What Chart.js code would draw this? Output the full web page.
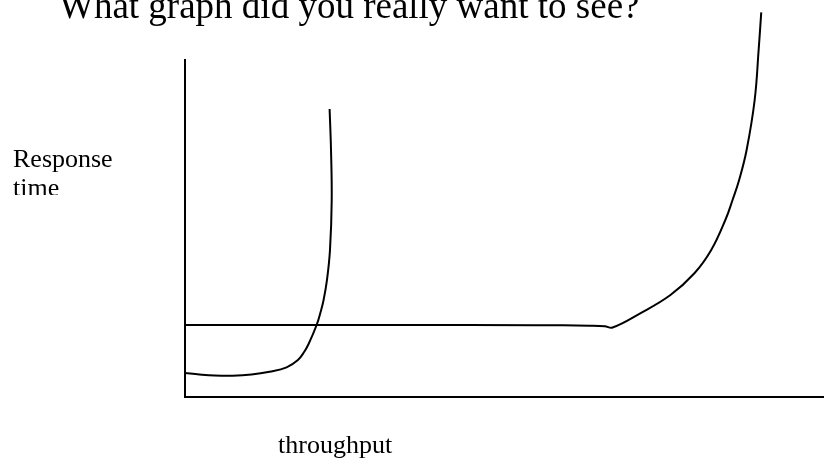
<!DOCTYPE html>
<html>
<head>
<meta charset="utf-8">
<script src="https://cdn.jsdelivr.net/npm/chart.js@4"></script>
<style>
  html, body { margin: 0; padding: 0; background: #fff; }
  #wrap { width: 824px; height: 466px; position: relative; }
</style>
</head>
<body>
<div id="wrap"><canvas id="sketch"></canvas></div>
<script>
// throughput (x) vs response time (y), arbitrary 0-100 units
const sawX = [0, 2.27, 4.62, 7.44, 10.41, 13.23, 15.90, 17.67, 18.64, 19.34, 20.60, 21.22, 21.69, 22.22, 22.69, 22.96, 22.85, 22.63]
const sawY = [7.1, 6.68, 6.38, 6.32, 6.68, 7.51, 8.81, 10.98, 13.35, 15.73, 21.36, 25.22, 28.78, 34.72, 43.62, 58.46, 73.29, 85.46]

const wantX = [0, 33.6, 55.05, 63.35, 65.70, 66.91, 71.24, 75.97, 79.72, 82.35, 84.56, 85.69, 86.72, 87.89, 89.15, 89.77, 90.18]
const wantY = [21.36, 21.36, 21.31, 21.16, 21.01, 20.62, 24.84, 30.27, 36.71, 43.62, 52.52, 58.46, 64.39, 73.29, 88.13, 102.97, 114.15]

const titleText = 'What graph did you really want to see?'
const yLabel = ['Response', 'time']
const xLabel = 'throughput'

const toPoints = (xs, ys) => xs.map((x, i) => ({x: x, y: ys[i]}))

const textPlugin = {
    id: 'sketchText',
    afterDraw(chart) {
        const c = chart.ctx
        c.save()
        c.fillStyle = '#000'
        c.textBaseline = 'alphabetic'
        c.textAlign = 'left'
        c.font = '37px "Liberation Serif"'
        c.fillText(titleText, 59, 18)
        c.font = '26px "Liberation Serif"'
        c.fillText(yLabel[0], 13, 167)
        c.fillText(xLabel, 278, 453)
        // second line of the label is cut off in the original
        c.beginPath()
        c.rect(0, 0, 180, 195)
        c.clip()
        c.fillText(yLabel[1], 13, 196)
        c.restore()
    }
}

const lineStyle = {
    showLine: true,
    borderColor: '#000',
    borderWidth: 2,
    pointRadius: 0,
    fill: false,
    clip: false,
}

new Chart(
    document.getElementById('sketch'), {
        type: 'scatter',
        data: {
            datasets: [
                {label: 'saw', data: toPoints(sawX, sawY), tension: 0.4, ...lineStyle},
                {label: 'want', data: toPoints(wantX, wantY), tension: 0.4, ...lineStyle},
            ]
        },
        options: {
            responsive: true,
            maintainAspectRatio: false,
            animation: false,
            events: [],
            layout: {padding: {left: 185, top: 60, right: 0, bottom: 69}},
            plugins: {legend: {display: false}, tooltip: {enabled: false}},
            scales: {
                x: {
                    type: 'linear', min: 0, max: 100,
                    ticks: {display: false},
                    grid: {display: false},
                    border: {display: true, color: '#000', width: 2},
                    afterFit: (s) => { s.height = 0 },
                },
                y: {
                    type: 'linear', min: 0, max: 100,
                    ticks: {display: false},
                    grid: {display: false},
                    border: {display: true, color: '#000', width: 2},
                    afterFit: (s) => { s.width = 0 },
                }
            }
        },
        plugins: [textPlugin]
    }
)
</script>
</body>
</html>
